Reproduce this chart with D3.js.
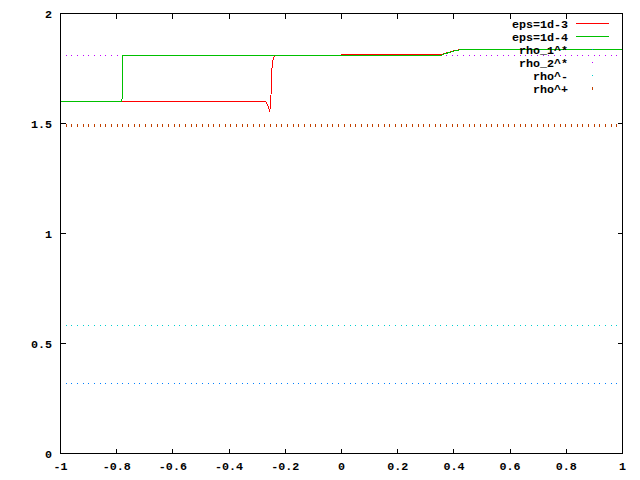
<!DOCTYPE html>
<html>
<head>
  <script src="https://d3js.org/d3.v7.min.js"></script>
  <style>
    body { margin: 0; background: #fff; }
    text { font-family: "Liberation Mono", monospace; font-weight: bold; font-size: 11.7px; fill: #000; }
  </style>
</head>
<body>
<div id="chart"></div>
<script>
  // curve eps=1d-3
  const xEps3 = [-1, -0.2705, -0.263, -0.2555, -0.2515, -0.2484, -0.243, -0.2384, 0.0, 0.0, 0.355, 0.359, 0.3726, 0.388, 0.403, 0.421, 1];
  const yEps3 = [1.6, 1.6, 1.586, 1.555, 1.6, 1.741, 1.795, 1.808, 1.808, 1.8123, 1.8123, 1.815, 1.82, 1.826, 1.832, 1.835, 1.835];
  // curve eps=1d-4
  const xEps4 = [-1, -0.783, -0.779, -0.779, 0.355, 0.362, 0.376, 0.392, 0.407, 0.421, 1];
  const yEps4 = [1.6, 1.6, 1.624, 1.808, 1.808, 1.815, 1.82, 1.826, 1.832, 1.835, 1.835];
  // constant levels
  const levelNames = ["rho_1^*", "rho_2^*", "rho^-", "rho^+"];
  const levelValues = [0.317, 1.809, 0.582, 1.4895];
  const levelColors = ["#0080ff", "#c000ff", "#00d0d0", "#c04000"];

  const xTicks = [-1, -0.8, -0.6, -0.4, -0.2, 0, 0.2, 0.4, 0.6, 0.8, 1];
  const yTicks = [0, 0.5, 1, 1.5, 2];

  const width = 640, height = 480;
  const pLeft = 60, pRight = 622, pTop = 13, pBottom = 453;

  const svg = d3.select("#chart").append("svg")
    .attr("width", width).attr("height", height);
  const g = svg.append("g").attr("transform", "translate(0.5,0.5)");

  const x = d3.scaleLinear().domain([-1, 1]).range([pLeft, pRight]);
  const y = d3.scaleLinear().domain([0, 2]).range([pBottom, pTop]);

  // dotted levels (drawn like gnuplot "with dots", 100 samples)
  const step = (pRight - pLeft) / 99;
  levelValues.forEach((v, i) => {
    const thick = i === 3;
    g.append("line")
      .attr("x1", pLeft - 0.5).attr("x2", pRight + 1)
      .attr("y1", Math.round(y(v)))
      .attr("y2", Math.round(y(v)))
      .attr("stroke", levelColors[i])
      .attr("stroke-width", thick ? 3 : 1)
      .attr("stroke-dasharray", `1,${step - 1}`)
      .style("shape-rendering", "crispEdges");
  });

  const line = d3.line().x(d => x(d[0])).y(d => y(d[1]));
  g.append("path")
    .attr("d", line(d3.zip(xEps3, yEps3)))
    .attr("fill", "none").attr("stroke", "#ff0000").attr("stroke-width", 1)
    .style("shape-rendering", "crispEdges");
  g.append("path")
    .attr("d", line(d3.zip(xEps4, yEps4)))
    .attr("fill", "none").attr("stroke", "#00c000").attr("stroke-width", 1)
    .style("shape-rendering", "crispEdges");

  // frame
  g.append("rect")
    .attr("x", pLeft).attr("y", pTop)
    .attr("width", pRight - pLeft).attr("height", pBottom - pTop)
    .attr("fill", "none").attr("stroke", "#000")
    .style("shape-rendering", "crispEdges");

  const tl = 5;
  xTicks.forEach(t => {
    const px = Math.round(x(t));
    g.append("line").attr("x1", px).attr("x2", px).attr("y1", pBottom).attr("y2", pBottom - tl)
      .attr("stroke", "#000").style("shape-rendering", "crispEdges");
    g.append("line").attr("x1", px).attr("x2", px).attr("y1", pTop).attr("y2", pTop + tl)
      .attr("stroke", "#000").style("shape-rendering", "crispEdges");
    svg.append("text").attr("x", x(t) + 0.5).attr("y", pBottom + 17)
      .attr("text-anchor", "middle").text(t);
  });
  yTicks.forEach(t => {
    const py = Math.round(y(t));
    g.append("line").attr("x1", pLeft).attr("x2", pLeft + tl).attr("y1", py).attr("y2", py)
      .attr("stroke", "#000").style("shape-rendering", "crispEdges");
    g.append("line").attr("x1", pRight).attr("x2", pRight - tl).attr("y1", py).attr("y2", py)
      .attr("stroke", "#000").style("shape-rendering", "crispEdges");
    svg.append("text").attr("x", 52).attr("y", y(t) + 4.5)
      .attr("text-anchor", "end").text(t);
  });

  // legend
  const legendNames = ["eps=1d-3", "eps=1d-4"].concat(levelNames);
  const legendColors = ["#ff0000", "#00c000"].concat(levelColors);
  legendNames.forEach((name, i) => {
    const ly = 23 + i * 13;
    svg.append("text").attr("x", 568).attr("y", ly + 4.5)
      .attr("text-anchor", "end").text(name);
    if (i < 2) {
      g.append("line").attr("x1", 575).attr("x2", 608).attr("y1", ly).attr("y2", ly)
        .attr("stroke", legendColors[i]).style("shape-rendering", "crispEdges");
    } else {
      g.append("rect").attr("x", 591.5).attr("y", i === 5 ? ly - 1.5 : ly - 0.5)
        .attr("width", 1).attr("height", i === 5 ? 3 : 1)
        .attr("fill", legendColors[i]).attr("stroke", "none");
    }
  });
</script>
</body>
</html>
